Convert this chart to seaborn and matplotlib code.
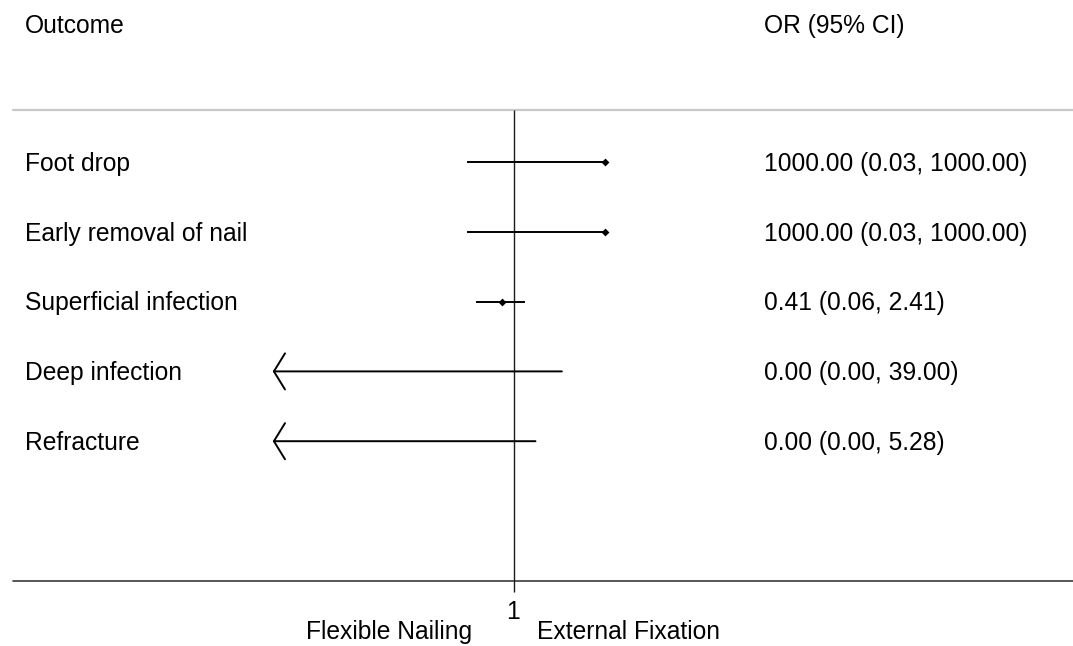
import numpy as np
import pandas as pd
import matplotlib
matplotlib.use("Agg")
import matplotlib.pyplot as plt
import seaborn as sns
from matplotlib.transforms import blended_transform_factory

# ---- data -------------------------------------------------------------
outcomes = ["Foot drop", "Early removal of nail", "Superficial infection",
            "Deep infection", "Refracture"]
odds_ratio = [1000.0, 1000.0, 0.41, 0.0, 0.0]
ci_lower = [0.03, 0.03, 0.06, 0.0, 0.0]
ci_upper = [1000.0, 1000.0, 2.41, 39.0, 5.28]

header_left = "Outcome"
header_right = "OR (95% CI)"
null_value = 1
null_label = "1"
favours_left = "Flexible Nailing"
favours_right = "External Fixation"

# ---- styling ----------------------------------------------------------
sns.set_theme(style="white")
plt.rcParams["font.family"] = ["Liberation Sans", "DejaVu Sans"]
FS = 17.75

W, H = 1073, 646
fig = plt.figure(figsize=(W / 100, H / 100), dpi=100)
ax = fig.add_axes([0, 0, 1, 1])
ax.set_xscale("log")

# log-scale geometry: null line position and pixels per natural-log unit
null_px, px_per_ln = 513.5, 13.2
ax.set_xlim(np.exp(-null_px / px_per_ln), np.exp((W - null_px) / px_per_ln))
# rows are one unit apart; first row sits 162 px from the top
row_px, first_px = 69.8, 162
ax.set_ylim((H - first_px) / row_px, -first_px / row_px)
ax.axis("off")

ci_floor = 1.2e-8  # lower edge of the CI drawing range (arrow beyond)

df = pd.DataFrame({
    "outcome": outcomes,
    "or": odds_ratio,
    "lo": ci_lower,
    "hi": ci_upper,
})
df["row"] = np.arange(len(df))
df["lo_draw"] = df["lo"].clip(lower=ci_floor)
df["label"] = [f"{o:.2f} ({l:.2f}, {h:.2f})" for o, l, h in
               zip(df["or"], df["lo"], df["hi"])]

top_rule = -0.745
axis_row = 6.0
tick_end = 6.16

# reference lines
ax.axhline(top_rule, xmin=13 / W, xmax=1, color="#c8c8c8", lw=1.6, zorder=1)
ax.axhline(axis_row, xmin=13 / W, xmax=1, color="#3a3a3a", lw=1.2, zorder=1)
ax.vlines(null_value, top_rule, tick_end, color="#1a1a1a", lw=1.0, zorder=2)

# confidence intervals
for _, r in df.iterrows():
    if r["lo"] < ci_floor:
        ax.annotate("", xy=(ci_floor, r["row"]), xytext=(r["hi"], r["row"]),
                    arrowprops=dict(arrowstyle="->,head_length=8,head_width=13",
                                    mutation_scale=1, lw=1.4, color="black",
                                    shrinkA=0, shrinkB=0),
                    zorder=3)
    else:
        ax.hlines(r["row"], r["lo_draw"], r["hi"], color="black", lw=1.4,
                  zorder=3)

# point estimates (only those inside the drawing range)
pts = df[df["or"] >= ci_floor]
sns.scatterplot(data=pts, x="or", y="row", marker="D", s=16, color="black",
                linewidth=0, ax=ax, zorder=4, legend=False)

# text columns
tr = blended_transform_factory(ax.transAxes, ax.transData)
base_off = 8.7 / row_px
ax.text(25 / W, -1.85, header_left, transform=tr, fontsize=FS,
        ha="left", va="baseline", color="black")
ax.text(764 / W, -1.85, header_right, transform=tr, fontsize=FS,
        ha="left", va="baseline", color="black")
for _, r in df.iterrows():
    ax.text(25 / W, r["row"] + base_off, r["outcome"], transform=tr,
            fontsize=FS, ha="left", va="baseline", color="black")
    ax.text(764 / W, r["row"] + base_off, r["label"], transform=tr,
            fontsize=FS, ha="left", va="baseline", color="black")

# axis tick label and direction labels
ax.text(null_value, 6.55, null_label, fontsize=FS, ha="center",
        va="baseline", color="black")
ax.text(472 / W, 6.83, favours_left, transform=tr, fontsize=FS,
        ha="right", va="baseline", color="black")
ax.text(537 / W, 6.83, favours_right, transform=tr, fontsize=FS,
        ha="left", va="baseline", color="black")

fig.savefig("out.png", dpi=100, facecolor="white")
